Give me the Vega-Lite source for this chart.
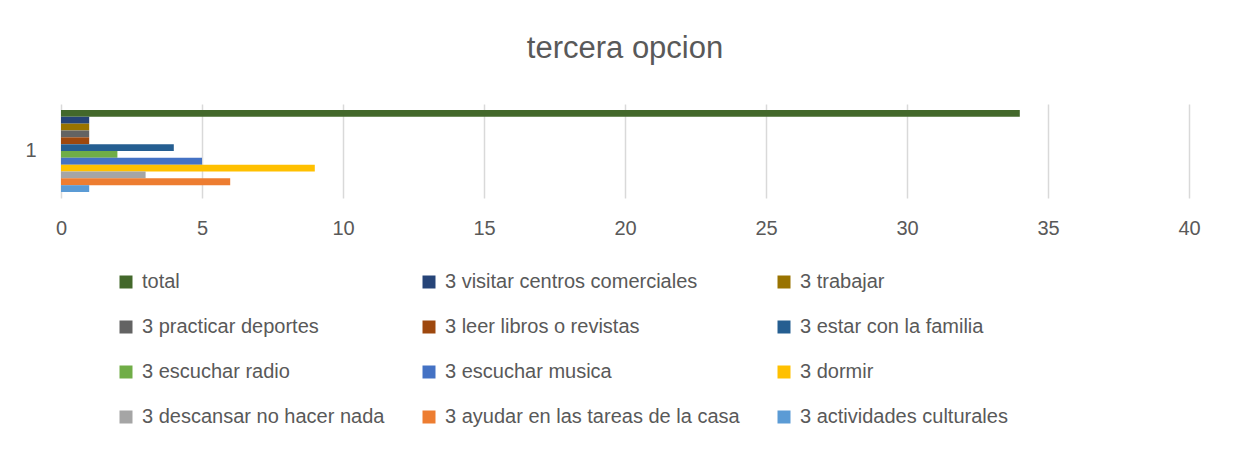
{
  "$schema": "https://vega.github.io/schema/vega-lite/v6.json",
  "width": 1128,
  "height": 94,
  "autosize": {"type": "none"},
  "padding": {"left": 61, "top": 104, "right": 44, "bottom": 251},
  "background": "white",
  "title": {
    "text": "tercera opcion",
    "anchor": "middle",
    "frame": "group",
    "font": "Liberation Sans",
    "fontSize": 31,
    "fontWeight": "normal",
    "color": "#595959",
    "offset": 39
  },
  "data": {
    "values": [
      {"cat": "1", "serie": "total", "orden": 1, "valor": 34},
      {"cat": "1", "serie": "3 visitar centros comerciales", "orden": 2, "valor": 1},
      {"cat": "1", "serie": "3 trabajar", "orden": 3, "valor": 1},
      {"cat": "1", "serie": "3 practicar deportes", "orden": 4, "valor": 1},
      {"cat": "1", "serie": "3 leer libros o revistas", "orden": 5, "valor": 1},
      {"cat": "1", "serie": "3 estar con la familia", "orden": 6, "valor": 4},
      {"cat": "1", "serie": "3 escuchar radio", "orden": 7, "valor": 2},
      {"cat": "1", "serie": "3 escuchar musica", "orden": 8, "valor": 5},
      {"cat": "1", "serie": "3 dormir", "orden": 9, "valor": 9},
      {"cat": "1", "serie": "3 descansar no hacer nada", "orden": 10, "valor": 3},
      {"cat": "1", "serie": "3 ayudar en las tareas de la casa", "orden": 11, "valor": 6},
      {"cat": "1", "serie": "3 actividades culturales", "orden": 12, "valor": 1}
    ]
  },
  "mark": {"type": "bar"},
  "encoding": {
    "y": {
      "field": "cat",
      "type": "nominal",
      "title": null,
      "scale": {"paddingInner": 0, "paddingOuter": 0.073},
      "axis": {
        "domain": false,
        "ticks": false,
        "labelPadding": 25,
        "labelFont": "Liberation Sans",
        "labelFontSize": 20,
        "labelColor": "#595959",
        "labelAngle": 0
      }
    },
    "yOffset": {
      "field": "serie",
      "type": "nominal",
      "sort": {"field": "orden"},
      "scale": {"paddingInner": 0, "paddingOuter": 0}
    },
    "x": {
      "field": "valor",
      "type": "quantitative",
      "title": null,
      "scale": {"domain": [0, 40], "nice": false},
      "axis": {
        "values": [0, 5, 10, 15, 20, 25, 30, 35, 40],
        "domain": false,
        "ticks": false,
        "labelFlush": false,
        "labelPadding": 20,
        "labelFont": "Liberation Sans",
        "labelFontSize": 20,
        "labelColor": "#595959",
        "grid": true,
        "gridColor": "#d9d9d9",
        "gridWidth": 1.5
      }
    },
    "color": {
      "field": "serie",
      "type": "nominal",
      "title": null,
      "scale": {
        "domain": [
          "total",
          "3 visitar centros comerciales",
          "3 trabajar",
          "3 practicar deportes",
          "3 leer libros o revistas",
          "3 estar con la familia",
          "3 escuchar radio",
          "3 escuchar musica",
          "3 dormir",
          "3 descansar no hacer nada",
          "3 ayudar en las tareas de la casa",
          "3 actividades culturales"
        ],
        "range": [
          "#43682B", "#264478", "#997300", "#636363", "#9E480E", "#255E91",
          "#70AD47", "#4472C4", "#FFC000", "#A5A5A5", "#ED7D31", "#5B9BD5"
        ]
      },
      "legend": {
        "orient": "none",
        "direction": "horizontal",
        "legendX": 55,
        "legendY": 168,
        "columns": 3,
        "columnPadding": 34,
        "rowPadding": 25,
        "symbolType": "square",
        "symbolSize": 169,
        "symbolStrokeWidth": 0,
        "labelFont": "Liberation Sans",
        "labelFontSize": 20,
        "labelColor": "#595959",
        "labelOffset": 6,
        "labelLimit": 400
      }
    }
  },
  "config": {
    "view": {"stroke": null}
  }
}
